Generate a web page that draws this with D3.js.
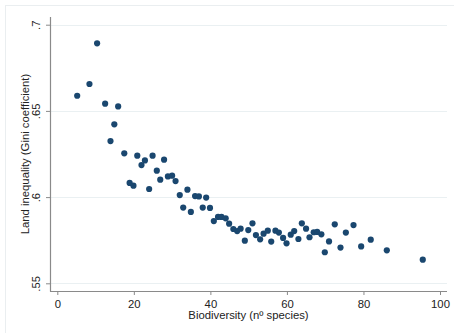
<!DOCTYPE html>
<html>
<head>
<meta charset="utf-8">
<script src="https://cdn.jsdelivr.net/npm/d3@7"></script>
<style>
  html, body { margin: 0; padding: 0; background: #fff; }
  svg { display: block; }
  text { font-family: "Liberation Sans", Arial, sans-serif; }
</style>
</head>
<body>
<script>
// Data
const biodiversity = [5.2, 8.4, 10.4, 12.5, 15.9, 14.9, 13.9, 17.5, 20.9, 24.9, 22.9, 22.0, 27.9, 26.0, 26.9, 28.9, 30.0, 30.9, 18.9, 19.9, 24.0, 32.0, 34.0, 36.0, 37.0, 38.9, 32.9, 34.9, 38.0, 39.9, 40.9, 42.0, 42.9, 44.0, 44.9, 46.0, 47.0, 47.9, 49.0, 49.9, 51.0, 51.9, 53.0, 53.9, 55.0, 55.9, 57.0, 57.9, 59.0, 59.9, 61.0, 61.9, 63.0, 63.9, 65.0, 65.9, 67.0, 67.9, 69.0, 69.9, 71.0, 72.5, 74.0, 75.4, 77.4, 79.4, 81.9, 86.1, 95.5];
const gini = [0.6588, 0.6656, 0.6892, 0.6542, 0.6526, 0.6422, 0.6325, 0.6254, 0.6240, 0.6240, 0.6213, 0.6186, 0.6217, 0.6153, 0.6101, 0.6120, 0.6124, 0.6093, 0.6082, 0.6066, 0.6047, 0.6012, 0.6043, 0.6006, 0.6004, 0.5997, 0.5939, 0.5914, 0.5939, 0.5937, 0.5861, 0.5885, 0.5885, 0.5877, 0.5846, 0.5815, 0.5803, 0.5817, 0.5747, 0.5809, 0.5848, 0.5780, 0.5755, 0.5788, 0.5805, 0.5742, 0.5805, 0.5794, 0.5763, 0.5732, 0.5782, 0.5803, 0.5757, 0.5848, 0.5817, 0.5767, 0.5796, 0.5798, 0.5784, 0.5680, 0.5743, 0.5842, 0.5707, 0.5794, 0.5838, 0.5714, 0.5753, 0.5691, 0.5637];
const xTicks = [0, 20, 40, 60, 80, 100];
const yTicks = [0.55, 0.6, 0.65, 0.7];
const yTickLabels = [".55", ".6", ".65", ".7"];
const xTitle = "Biodiversity (nº species)";
const yTitle = "Land inequality (Gini coefficient)";

const W = 454, H = 333;
const plot = { left: 50, right: 447, top: 17, bottom: 291 };

const svg = d3.select("body").append("svg").attr("width", W).attr("height", H);

// outer light frame
svg.append("rect").attr("x", 5.5).attr("y", 5.5).attr("width", W + 10).attr("height", H + 10)
  .attr("fill", "#fff").attr("stroke", "#eaeef0").attr("stroke-width", 1);

const x = d3.scaleLinear().domain([0, 100]).range([57.3, 440]);
const y = d3.scaleLinear().domain([0.55, 0.7]).range([283.3, 24.7]);

// gridlines
svg.append("g").selectAll("line").data(yTicks).join("line")
  .attr("x1", plot.left).attr("x2", plot.right)
  .attr("y1", d => Math.round(y(d)) + 0.5).attr("y2", d => Math.round(y(d)) + 0.5)
  .attr("stroke", "#eaf0f2").attr("stroke-width", 1);

// Y axis
const yAxis = d3.axisLeft(y).tickValues(yTicks).tickSize(4).tickPadding(7)
  .tickFormat((d, i) => yTickLabels[i]);
const gy = svg.append("g").attr("transform", `translate(${plot.left},0)`).call(yAxis);
gy.select(".domain").remove();
gy.selectAll(".tick line").attr("stroke", "#8a8a8a");
gy.selectAll(".tick text")
  .attr("font-size", 11.3).attr("fill", "#222")
  .attr("text-anchor", "middle").attr("dy", null)
  .attr("x", null)
  .attr("transform", "translate(-13,0) rotate(-90)")
  .attr("dominant-baseline", "middle");
svg.append("line").attr("x1", plot.left + 0.5).attr("x2", plot.left + 0.5)
  .attr("y1", plot.top).attr("y2", plot.bottom + 0.5)
  .attr("stroke", "#8a8a8a").attr("stroke-width", 1.2);

// X axis
const xAxis = d3.axisBottom(x).tickValues(xTicks).tickSize(4).tickPadding(5);
const gx = svg.append("g").attr("transform", `translate(0,${plot.bottom})`).call(xAxis);
gx.select(".domain").remove();
gx.selectAll(".tick line").attr("stroke", "#8a8a8a");
gx.selectAll(".tick text").attr("font-size", 11.3).attr("fill", "#222");
svg.append("line").attr("x1", plot.left).attr("x2", plot.right)
  .attr("y1", plot.bottom + 0.5).attr("y2", plot.bottom + 0.5)
  .attr("stroke", "#8a8a8a").attr("stroke-width", 1.2);

// titles
svg.append("text").attr("x", (plot.left + plot.right) / 2).attr("y", 319)
  .attr("text-anchor", "middle").attr("font-size", 11.3).attr("fill", "#222").text(xTitle);
svg.append("text").attr("transform", `translate(29,${(plot.top + plot.bottom) / 2}) rotate(-90)`)
  .attr("text-anchor", "middle").attr("font-size", 11.3).attr("fill", "#222").text(yTitle);

// points
svg.append("g").selectAll("circle").data(biodiversity.map((b, i) => [b, gini[i]])).join("circle")
  .attr("cx", d => x(d[0])).attr("cy", d => y(d[1])).attr("r", 3.1)
  .attr("fill", "#1a476f");
</script>
</body>
</html>
